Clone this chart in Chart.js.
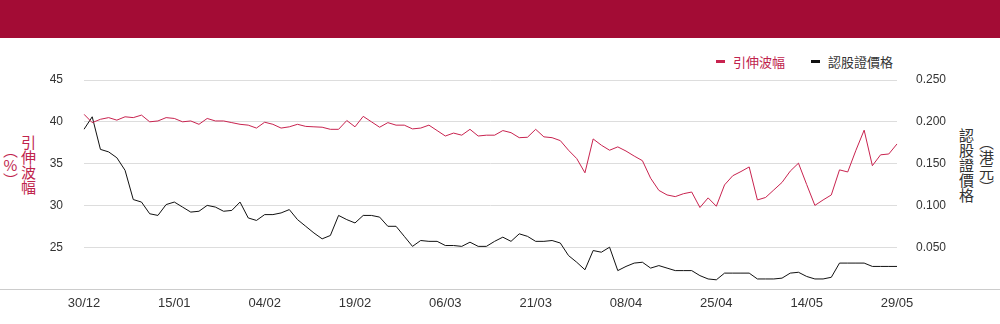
<!DOCTYPE html>
<html lang="zh-Hant">
<head>
    <meta charset="UTF-8">
    <title>引伸波幅 / 認股證價格</title>
    <script src="https://cdn.jsdelivr.net/npm/chart.js"></script>
    <style>
        body { margin: 0; background: #fff; }
        .wrap { position: relative; width: 1000px; height: 324px; overflow: hidden; background: #fff; }
        .banner { position: absolute; left: 0; top: 0; width: 1000px; height: 38px; background: #a30c35; }
        .legend { position: absolute; top: 50px; left: 716px; font: 13px "Noto Sans CJK TC", sans-serif; white-space: nowrap; }
        .legend span { display: inline-block; vertical-align: middle; }
        .legend .dash { width: 9px; height: 3px; margin-right: 8px; }
        .legend .item { margin-right: 26px; }
        .vtitle { position: absolute; top: 120px; height: 90px; font: 15px/20px "Noto Sans CJK TC", sans-serif;
                  text-align: center; }
        .vtitle .up { text-orientation: upright; }
        .vt-left { left: 1px; writing-mode: vertical-rl; color: #c0244d; line-height: 18px; }
        .vt-right { left: 956px; writing-mode: vertical-lr; color: #333; }
        .chart-box { position: absolute; left: 0; top: 38px; width: 1000px; height: 286px; }
    </style>
</head>
<body>
<div class="wrap">
    <div class="banner"></div>
    <div class="legend">
        <span class="dash" style="background:#c8234f"></span><span class="item" style="color:#c0244d">引伸波幅</span><span class="dash" style="background:#111"></span><span style="color:#333">認股證價格</span>
    </div>
    <div class="vtitle vt-left">引伸波幅<br>（<span class="up">%</span>）</div>
    <div class="vtitle vt-right">認股證價格<br>（港元）</div>
    <div class="chart-box"><canvas id="chart"></canvas></div>
</div>

<script>
    // 交易日
    const dates = [
        "30/12", "31/12",
        "02/01", "03/01", "06/01", "07/01", "08/01", "09/01", "10/01", "13/01", "14/01", "15/01",
        "16/01", "17/01", "20/01", "21/01", "22/01", "23/01", "24/01", "27/01", "28/01",
        "03/02", "04/02", "05/02", "06/02", "07/02", "10/02", "11/02", "12/02", "13/02", "14/02",
        "17/02", "18/02", "19/02", "20/02", "21/02", "24/02", "25/02", "26/02", "27/02", "28/02",
        "03/03", "04/03", "05/03", "06/03", "07/03", "10/03", "11/03", "12/03", "13/03", "14/03",
        "17/03", "18/03", "19/03", "20/03", "21/03", "24/03", "25/03", "26/03", "27/03", "28/03", "31/03",
        "01/04", "02/04", "03/04", "07/04", "08/04", "09/04", "10/04", "11/04", "14/04", "15/04",
        "16/04", "17/04", "22/04", "23/04", "24/04", "25/04", "28/04", "29/04", "30/04",
        "02/05", "06/05", "07/05", "08/05", "09/05", "12/05", "13/05", "14/05", "15/05", "16/05",
        "19/05", "20/05", "21/05", "22/05", "23/05", "26/05", "27/05", "28/05", "29/05"
    ];

    // 引伸波幅 (%)
    const impliedVol = [
        40.9, 39.9, 40.3, 40.5, 40.2, 40.6, 40.5, 40.8, 40.0, 40.1,
        40.5, 40.4, 40.0, 40.1, 39.7, 40.4, 40.1, 40.1, 39.9, 39.7,
        39.6, 39.25, 39.95, 39.7, 39.25, 39.4, 39.7, 39.45, 39.4, 39.35,
        39.1, 39.1, 40.15, 39.4, 40.65, 40.0, 39.35, 39.9, 39.6, 39.6,
        39.15, 39.25, 39.6, 38.95, 38.3, 38.65, 38.4, 39.1, 38.3, 38.4,
        38.4, 38.95, 38.7, 38.1, 38.15, 39.1, 38.2, 38.1, 37.75, 36.6,
        35.6, 33.9, 37.95, 37.2, 36.6, 37.0, 36.5, 35.9, 35.35, 33.25,
        31.8, 31.25, 31.05, 31.4, 31.6, 29.75, 30.9, 29.9, 32.45, 33.55,
        34.05, 34.6, 30.65, 30.95, 31.85, 32.75, 34.1, 35.05, 32.5, 30.0,
        30.65, 31.25, 34.25, 34.0, 36.6, 39.0, 34.75, 36.05, 36.15, 37.35
    ];

    // 認股證價格 (港元)
    const warrantPrice = [
        0.191, 0.206, 0.167, 0.164, 0.157, 0.142, 0.107, 0.104, 0.090, 0.088,
        0.101, 0.104, 0.098, 0.092, 0.093, 0.100, 0.098, 0.093, 0.094, 0.104,
        0.085, 0.082, 0.089, 0.089, 0.091, 0.095, 0.083, 0.075, 0.067, 0.060,
        0.064, 0.088, 0.083, 0.079, 0.088, 0.088, 0.086, 0.075, 0.075, 0.063,
        0.051, 0.058, 0.057, 0.057, 0.052, 0.052, 0.051, 0.056, 0.051, 0.051,
        0.057, 0.062, 0.057, 0.066, 0.063, 0.057, 0.057, 0.058, 0.055, 0.040,
        0.032, 0.023, 0.046, 0.044, 0.050, 0.022, 0.027, 0.031, 0.032, 0.025,
        0.028, 0.025, 0.022, 0.022, 0.022, 0.016, 0.012, 0.011, 0.019, 0.019,
        0.019, 0.019, 0.012, 0.012, 0.012, 0.013, 0.019, 0.020, 0.015, 0.012,
        0.012, 0.014, 0.031, 0.031, 0.031, 0.031, 0.027, 0.027, 0.027, 0.027
    ];

    const labelEvery = 11;
    const tickFont = { family: "'Liberation Sans', Arial, sans-serif", size: 12 };

    // 底部橫線橫跨整個畫布
    const baseLine = {
        id: "baseLine",
        afterDraw(chart) {
            const ctx = chart.ctx;
            const y = Math.round(chart.chartArea.bottom) + 0.5;
            ctx.save();
            ctx.strokeStyle = "#cccccc";
            ctx.lineWidth = 1;
            ctx.beginPath();
            ctx.moveTo(0, y);
            ctx.lineTo(chart.width, y);
            ctx.stroke();
            ctx.restore();
        }
    };

    new Chart(document.getElementById("chart"), {
        type: "line",
        data: {
            labels: dates,
            datasets: [{
                label: "引伸波幅",
                data: impliedVol,
                yAxisID: "y",
                borderColor: "#c8234f",
                borderWidth: 1,
                pointRadius: 0,
                tension: 0
            }, {
                label: "認股證價格",
                data: warrantPrice,
                yAxisID: "y1",
                borderColor: "#111111",
                borderWidth: 1,
                pointRadius: 0,
                tension: 0
            }]
        },
        options: {
            responsive: true,
            maintainAspectRatio: false,
            animation: false,
            layout: { padding: { top: 42 } },
            plugins: {
                legend: { display: false },
                tooltip: { enabled: false }
            },
            scales: {
                x: {
                    grid: { display: false, drawTicks: false },
                    border: { display: false },
                    afterFit: (s) => { s.height = 35; },
                    ticks: {
                        autoSkip: false,
                        maxRotation: 0,
                        padding: 7,
                        color: "#333",
                        font: { family: "'Liberation Sans', Arial, sans-serif", size: 13 },
                        callback: function (val, i) {
                            return i % labelEvery === 0 ? this.getLabelForValue(val) : "";
                        }
                    }
                },
                y: {
                    position: "left",
                    min: 20,
                    max: 45,
                    afterFit: (s) => { s.width = 84; },
                    grid: { color: "#dddddd", drawTicks: false },
                    border: { display: false },
                    ticks: {
                        stepSize: 5,
                        padding: 21,
                        color: "#333",
                        font: tickFont,
                        callback: (v) => v === 20 ? "" : v
                    }
                },
                y1: {
                    position: "right",
                    min: 0,
                    max: 0.25,
                    afterFit: (s) => { s.width = 103; },
                    grid: { drawOnChartArea: false, drawTicks: false },
                    border: { display: false },
                    ticks: {
                        stepSize: 0.05,
                        padding: 19,
                        color: "#333",
                        font: tickFont,
                        callback: (v) => v === 0 ? "" : v.toFixed(3)
                    }
                }
            }
        },
        plugins: [baseLine]
    });
</script>
</body>
</html>
